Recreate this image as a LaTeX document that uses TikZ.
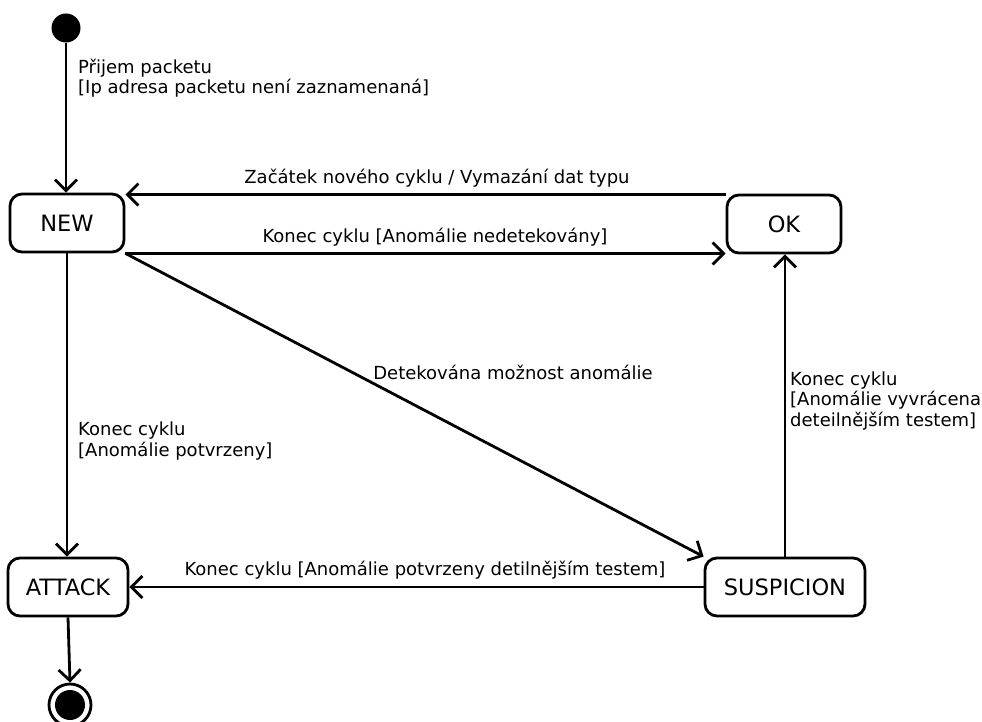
\documentclass[tikz,border=0pt]{standalone}
\usepackage{fontspec}
\setmainfont{DejaVu Sans}
\usetikzlibrary{arrows.meta}
\begin{document}
\begin{tikzpicture}[x=1pt,y=-1pt,
  state/.style={draw,line width=2.8pt,rounded corners=12pt,minimum height=58pt,font=\fontsize{22.5}{26}\selectfont},
  trans/.style={line width=2.8pt,-{Straight Barb[length=11pt,width=22pt,line width=2.8pt]}},
  lbl/.style={font=\fontsize{18}{20.5}\selectfont,align=left,inner sep=0pt}]
\useasboundingbox (0,0) rectangle (982,722);
% states
\node[state,minimum width=114pt] (new) at (67,223) {NEW};
\node[state,minimum width=114pt] (ok) at (784,224) {OK};
\node[state,minimum width=120pt] (attack) at (68,587) {ATTACK};
\node[state,minimum width=160pt] (susp) at (785,587) {SUSPICION};
% pseudo states
\node[circle,fill,minimum size=29pt,inner sep=0pt] (init) at (66,28) {};
\node[circle,draw,line width=2.8pt,minimum size=42pt,inner sep=0pt] (final) at (70,705) {};
\node[circle,fill,minimum size=30pt,inner sep=0pt] (finaldot) at (70,705) {};
% transitions
\draw[trans] (init) -- (new.north -| init);
\node[lbl,anchor=west] (l1) at (78,78) {Přijem packetu\\{}[Ip adresa packetu není zaznamenaná]};
\draw[trans] (ok.north west) ++(0,1) coordinate (okt) (okt) -- (okt -| new.east);
\node[lbl] (l2) at (437,178) {Začátek nového cyklu / Vymazání dat typu};
\draw[trans] (new.south east) -- (new.south east -| ok.west);
\node[lbl] (l3) at (435,237) {Konec cyklu [Anomálie nedetekovány]};
\draw[trans] (new.south east) -- (susp.north west);
\node[lbl] (l4) at (513,372) {Detekována možnost anomálie};
\draw[trans] (new.south) -- (new.south |- attack.north);
\node[lbl,anchor=west] (l5) at (78,441) {Konec cyklu\\{}[Anomálie potvrzeny]};
\draw[trans] (susp.west) -- (attack.east);
\node[lbl] (l6) at (425,570) {Konec cyklu [Anomálie potvrzeny detilnějším testem]};
\draw[trans] (susp.north) -- (susp.north |- ok.south);
\node[lbl,anchor=west] (l7) at (790,401) {Konec cyklu\\{}[Anomálie vyvrácena\\deteilnějším testem]};
\draw[trans] (attack.south) -- (final.north);
\end{tikzpicture}
\end{document}
